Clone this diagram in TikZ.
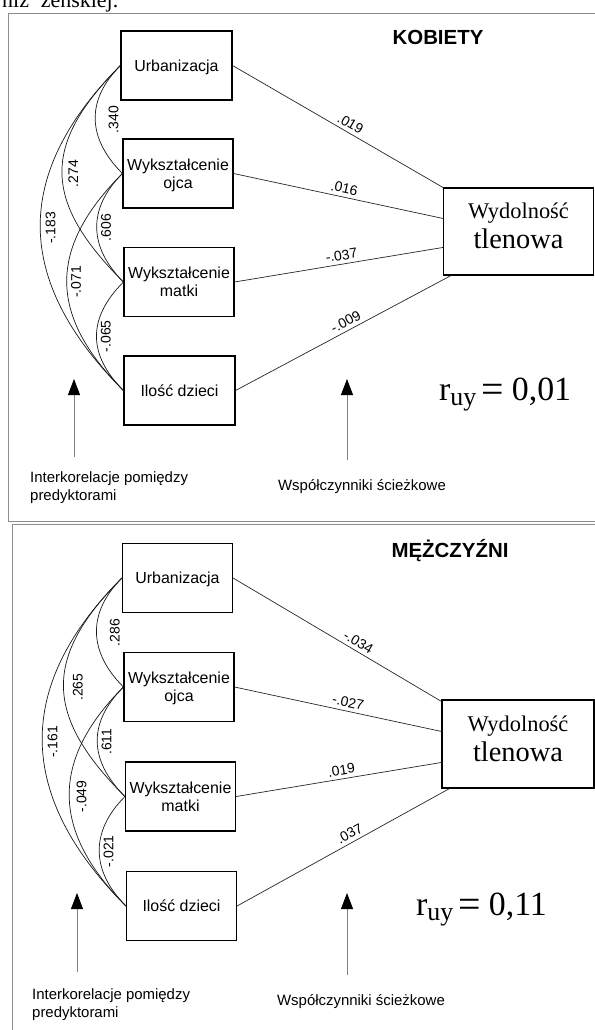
\documentclass[tikz,border=0pt]{standalone}
\usepackage{fontspec}
\setmainfont{Liberation Serif}
\newfontfamily\sansf{Liberation Sans}
\usetikzlibrary{arrows.meta,calc}
\newcommand{\ruytext}[1]{\fontsize{34}{34}\selectfont r\raisebox{-5bp}{\fontsize{26}{26}\selectfont uy}\hspace{5bp}\raisebox{-2bp}{\fontsize{40}{40}\selectfont =}\hspace{8bp}#1}
\begin{document}
\begin{tikzpicture}[x=1bp,y=-1bp,
  pred/.style={draw, line width=1.1bp, minimum width=110bp, minimum height=69bp, align=center, inner sep=0pt, text depth=0bp, font=\sansf\fontsize{16}{18.4}\selectfont},
  outc/.style={draw, line width=1.1bp, minimum width=150bp, minimum height=87bp, align=center, inner sep=0pt, text depth=11bp, font=\fontsize{22.5}{30}\selectfont},
  pathln/.style={line width=0.7bp, draw=black!85},
  corr/.style={line width=0.7bp, draw=black!90},
  plab/.style={font=\sansf\fontsize{14}{14}\selectfont, sloped, above, inner sep=3.5bp},
  clab/.style={font=\sansf\fontsize{14}{14}\selectfont, rotate=90, anchor=north, inner sep=4bp},
  frame/.style={draw=black!45, line width=1bp},
  title/.style={font=\sansf\bfseries\fontsize{20.5}{24}\selectfont, anchor=base, inner sep=0pt},
  note/.style={font=\sansf\fontsize{15}{18}\selectfont, align=left, inner sep=0pt},
  ruy/.style={inner sep=0pt, anchor=base west},
  uparrow/.style={draw=black!50, line width=0.8bp, -{Triangle[width=12bp,length=16bp,color=black]}},
]
\useasboundingbox (0,0) rectangle (595,1030);

% clipped line of text above
\node[anchor=base west, inner sep=0pt, font=\fontsize{22}{22}\selectfont] (H) at (2,7.5) {niz\hspace{12bp}żeńskiej.};

% panel frames
\draw[frame] (8,13) rectangle (600,521);
\draw[frame] (12,524.5) rectangle (600,1040);

% ===== KOBIETY =====
\node[title] (T1) at (438,44) {KOBIETY};
\node[pred, minimum width=111bp] (U1) at (176.5,65.5) {Urbanizacja};
\node[pred] (O1) at (178,173.5) {Wykształcenie\\ojca};
\node[pred] (M1) at (179,282) {Wykształcenie\\matki};
\node[pred, minimum width=111bp] (I1) at (179.5,390.5) {Ilość dzieci};
\node[outc] (Y1) at (518.5,231.5) {Wydolność\\{\fontsize{28.5}{30}\selectfont tlenowa}};

\draw[pathln] (U1.east) -- (Y1.north west) node[plab,pos=0.54]{.019};
\draw[pathln] (O1.east) -- ($(Y1.north west)+(0,31)$) node[plab,pos=0.52]{.016};
\draw[pathln] (M1.east) -- ($(Y1.north west)+(0,60)$) node[plab,pos=0.52]{-.037};
\draw[pathln] (I1.east) -- ($(Y1.south west)+(8,0)$) node[plab,pos=0.53]{-.009};

\draw[corr] (U1.west) .. controls +(-35,35) and +(-35,-35) .. (O1.west) node[xshift=9bp,clab,midway]{.340};
\draw[corr] (U1.west) .. controls +(-80,80) and +(-80,-80) .. (M1.west) node[xshift=2bp,clab,midway]{.274};
\draw[corr] (U1.west) .. controls +(-109,109) and +(-109,-109) .. (I1.west) node[xshift=1bp,clab,midway]{-.183};
\draw[corr] (O1.west) .. controls +(-35,35) and +(-35,-35) .. (M1.west) node[clab,midway]{.606};
\draw[corr] (O1.west) .. controls +(-75,75) and +(-75,-75) .. (I1.west) node[clab,midway]{-.071};
\draw[corr] (M1.west) .. controls +(-36,36) and +(-36,-36) .. (I1.west) node[clab,midway]{-.065};

\node[ruy] (R1) at (439,400) {\ruytext{0,01}};

\coordinate (a1s) at (74,457); \coordinate (a1e) at (74,379);
\draw[uparrow] (a1s) -- (a1e);
\coordinate (b1s) at (347,460); \coordinate (b1e) at (347,379);
\draw[uparrow] (b1s) -- (b1e);
\node[note, anchor=west] (N1) at (30,487.5) {Interkorelacje pomiędzy\\predyktorami};
\node[note, anchor=base] (W1) at (362,490) {Współczynniki ścieżkowe};

% ===== MEZCZYZNI =====
\node[title] (T2) at (450,557) {MĘŻCZYŹNI};
\node[pred] (U2) at (177.5,578) {Urbanizacja};
\node[pred] (O2) at (179,687) {Wykształcenie\\ojca};
\node[pred] (M2) at (180.5,796.5) {Wykształcenie\\matki};
\node[pred] (I2) at (181.5,906) {Ilość dzieci};
\node[outc, minimum width=152bp, minimum height=88bp] (Y2) at (518,744) {Wydolność\\{\fontsize{28.5}{30}\selectfont tlenowa}};

\draw[pathln] (U2.east) -- ($(Y2.north west)+(0,2)$) node[plab,pos=0.58]{-.034};
\draw[pathln] (O2.east) -- ($(Y2.north west)+(0,32)$) node[plab,pos=0.54]{-.027};
\draw[pathln] (M2.east) -- ($(Y2.north west)+(0,63)$) node[plab,pos=0.52]{.019};
\draw[pathln] (I2.east) -- ($(Y2.south west)+(8,0)$) node[plab,pos=0.55]{.037};

\draw[corr] (U2.west) .. controls +(-35,35) and +(-35,-35) .. (O2.west) node[xshift=9bp,clab,midway]{.286};
\draw[corr] (U2.west) .. controls +(-80,80) and +(-80,-80) .. (M2.west) node[xshift=5bp,clab,midway]{.265};
\draw[corr] (U2.west) .. controls +(-109,109) and +(-109,-109) .. (I2.west) node[xshift=1bp,clab,midway]{-.161};
\draw[corr] (O2.west) .. controls +(-36,36) and +(-36,-36) .. (M2.west) node[clab,midway]{.611};
\draw[corr] (O2.west) .. controls +(-74,74) and +(-74,-74) .. (I2.west) node[xshift=3bp,clab,midway]{-.049};
\draw[corr] (M2.west) .. controls +(-35,35) and +(-35,-35) .. (I2.west) node[clab,midway]{-.021};

\node[ruy] (R2) at (416,915) {\ruytext{0,11}};

\coordinate (a2s) at (77,972); \coordinate (a2e) at (77,893);
\draw[uparrow] (a2s) -- (a2e);
\coordinate (b2s) at (347,975); \coordinate (b2e) at (347,893);
\draw[uparrow] (b2s) -- (b2e);
\node[note, anchor=west] (N2) at (32,1004.5) {Interkorelacje pomiędzy\\predyktorami};
\node[note, anchor=base] (W2) at (361,1005.7) {Współczynniki ścieżkowe};
\end{tikzpicture}
\end{document}
